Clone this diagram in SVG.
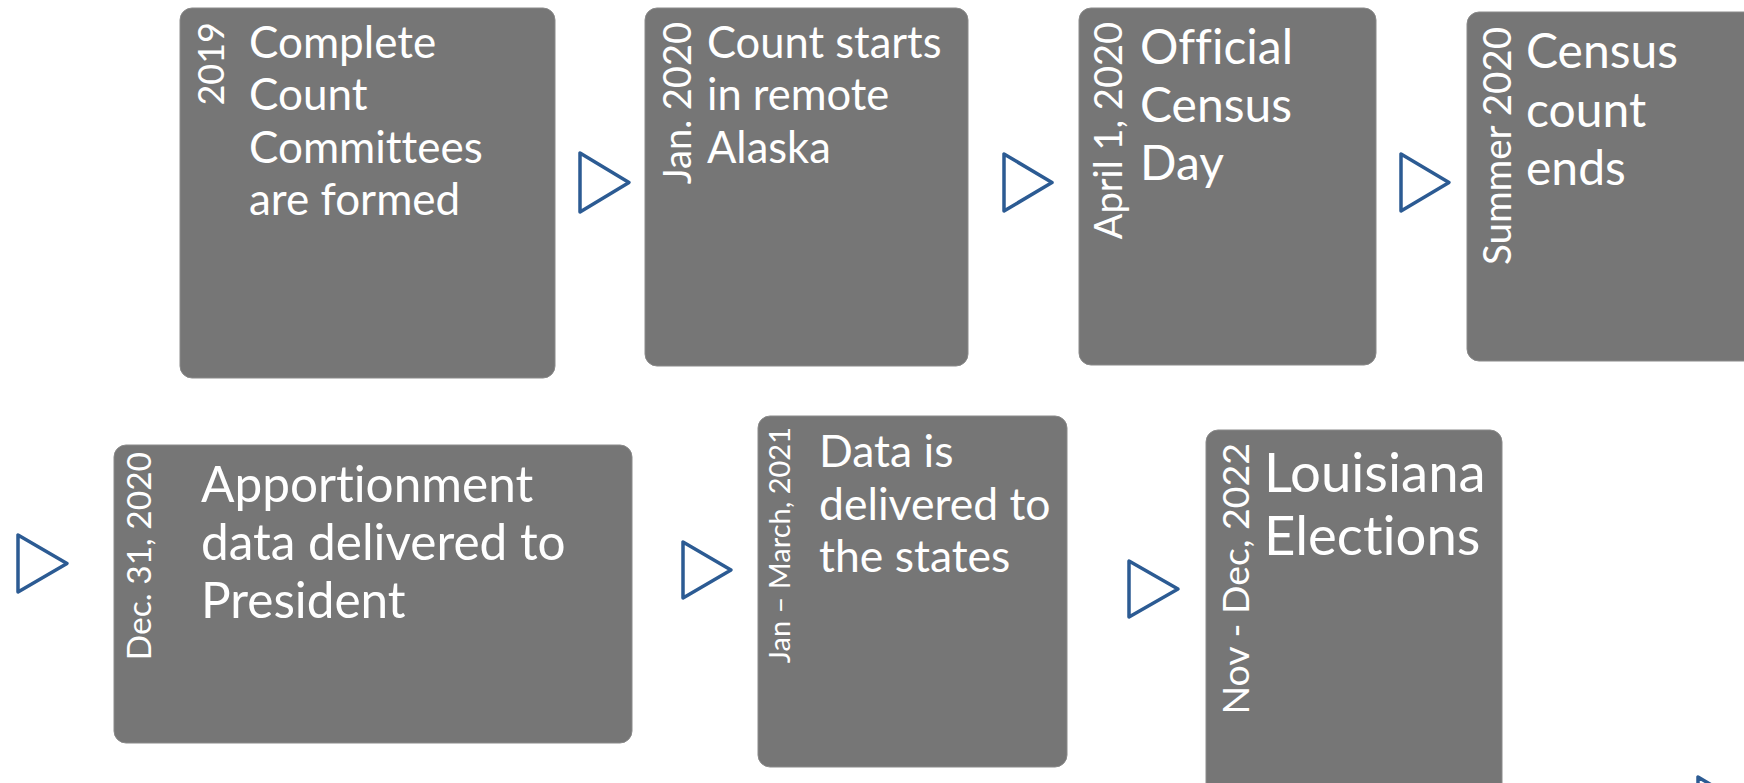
<svg xmlns="http://www.w3.org/2000/svg" width="1744" height="783" viewBox="0 0 1744 783">
<style>
.box{fill:#767676;stroke:#8a8a8a;stroke-width:1}
.t{font-family:Lato,"Open Sans","Liberation Sans",sans-serif;fill:#ffffff;font-variant-ligatures:none}
.d{text-anchor:end}
.arr{fill:none;stroke:#2c5b93;stroke-width:3.5;stroke-linejoin:round}
</style>
<rect width="1744" height="783" fill="#ffffff"/>
<g id="node1">
<rect class="box" x="180" y="8" width="375" height="370" rx="12"/>
<text class="t d" font-size="36" transform="translate(224,22) rotate(-90)">2019</text>
<text class="t" font-size="44"><tspan x="249" y="58">Complete</tspan><tspan x="249" y="110">Count</tspan><tspan x="249" y="163">Committees</tspan><tspan x="249" y="215">are formed</tspan></text>
</g>
<g id="node2">
<rect class="box" x="645" y="8" width="323" height="358" rx="12"/>
<text class="t d" font-size="38" transform="translate(691,22) rotate(-90)">Jan. 2020</text>
<text class="t" font-size="43.5"><tspan x="707" y="58">Count starts</tspan><tspan x="707" y="110">in remote</tspan><tspan x="707" y="163">Alaska</tspan></text>
</g>
<g id="node3">
<rect class="box" x="1079" y="8" width="297" height="357" rx="12"/>
<text class="t d" font-size="38" transform="translate(1122,22) rotate(-90)">April 1, 2020</text>
<text class="t" font-size="48"><tspan x="1140" y="64">Official</tspan><tspan x="1140" y="122">Census</tspan><tspan x="1140" y="180">Day</tspan></text>
</g>
<g id="node4">
<rect class="box" x="1467" y="12" width="300" height="349" rx="12"/>
<text class="t d" font-size="38.5" transform="translate(1511,27) rotate(-90)">Summer 2020</text>
<text class="t" font-size="48"><tspan x="1526" y="68">Census</tspan><tspan x="1526" y="127">count</tspan><tspan x="1526" y="185">ends</tspan></text>
</g>
<g id="node5">
<rect class="box" x="114" y="445" width="518" height="298" rx="12"/>
<text class="t d" font-size="33.5" transform="translate(151,452) rotate(-90)">Dec. 31, 2020</text>
<text class="t" font-size="49.5"><tspan x="201" y="502">Apportionment</tspan><tspan x="201" y="560">data delivered to</tspan><tspan x="201" y="618">President</tspan></text>
</g>
<g id="node6">
<rect class="box" x="758" y="416" width="309" height="351" rx="12"/>
<text class="t d" font-size="29" transform="translate(790,427) rotate(-90)">Jan – March, 2021</text>
<text class="t" font-size="44.5"><tspan x="819" y="467">Data is</tspan><tspan x="819" y="520">delivered to</tspan><tspan x="819" y="572">the states</tspan></text>
</g>
<g id="node7">
<rect class="box" x="1206" y="430" width="296" height="380" rx="12"/>
<text class="t d" font-size="37.5" transform="translate(1249,443) rotate(-90)">Nov - Dec, 2022</text>
<text class="t" font-size="54.5"><tspan x="1264" y="492">Louisiana</tspan><tspan x="1264" y="555">Elections</tspan></text>
</g>
<g id="connectors">
<polygon class="arr" points="580,153 580,212 629,182.5"/>
<polygon class="arr" points="1004,154 1004,211 1052,182.5"/>
<polygon class="arr" points="1401,154 1401,211 1449,182.5"/>
<polygon class="arr" points="18,535 18,592 67,563.5"/>
<polygon class="arr" points="683,542 683,598 731,570"/>
<polygon class="arr" points="1129,561 1129,617 1178,589"/>
<polygon class="arr" points="1698,777 1698,834 1746,805.5"/>
</g>
</svg>
